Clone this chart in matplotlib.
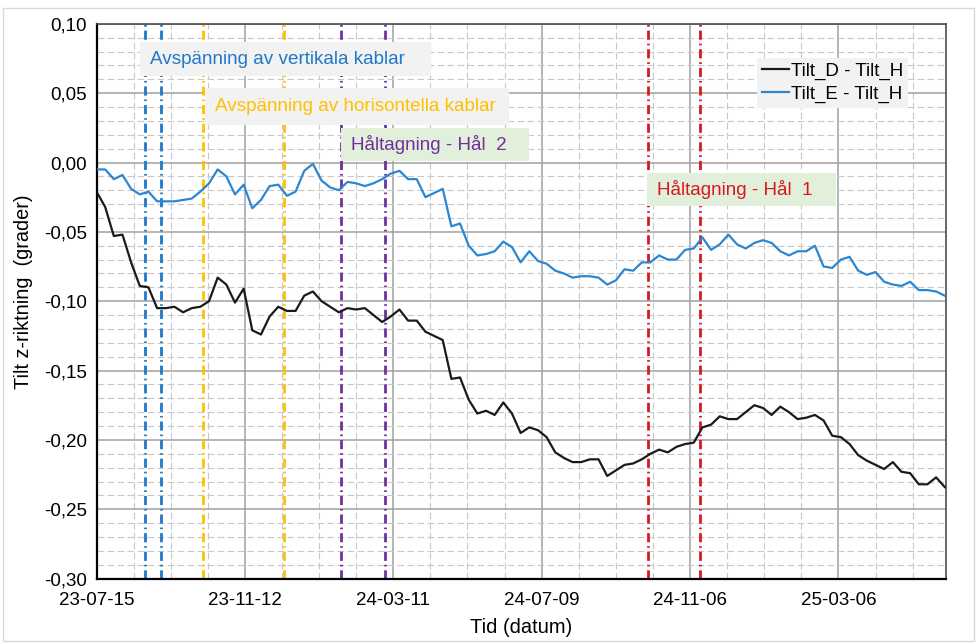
import matplotlib
matplotlib.use("Agg")
import matplotlib.pyplot as plt
import matplotlib.dates as mdates
from matplotlib.patches import Rectangle
from matplotlib.ticker import FixedLocator, FuncFormatter
import pandas as pd

plt.rcParams['font.family'] = ['Liberation Sans', 'DejaVu Sans']

# weekly readings, first on 2023-07-15
dates = pd.date_range('2023-07-15', periods=99, freq='7D')

tilt_d_h = [-0.021, -0.032, -0.053, -0.052, -0.072, -0.089, -0.090, -0.105, -0.105, -0.104,
            -0.108, -0.105, -0.104, -0.100, -0.083, -0.088, -0.101, -0.091, -0.121, -0.124,
            -0.111, -0.104, -0.107, -0.107, -0.096, -0.093, -0.100, -0.104, -0.108, -0.105,
            -0.106, -0.105, -0.110, -0.115, -0.111, -0.106, -0.114, -0.114, -0.122, -0.125,
            -0.128, -0.156, -0.155, -0.171, -0.181, -0.179, -0.182, -0.173, -0.181, -0.195,
            -0.191, -0.193, -0.198, -0.209, -0.213, -0.216, -0.216, -0.214, -0.214, -0.226,
            -0.222, -0.218, -0.217, -0.214, -0.210, -0.207, -0.209, -0.205, -0.203, -0.202,
            -0.191, -0.189, -0.183, -0.185, -0.185, -0.180, -0.175, -0.177, -0.182, -0.176,
            -0.180, -0.185, -0.184, -0.182, -0.186, -0.197, -0.198, -0.203, -0.211, -0.215,
            -0.218, -0.221, -0.216, -0.223, -0.224, -0.232, -0.232, -0.227, -0.234]

tilt_e_h = [-0.005, -0.005, -0.012, -0.009, -0.019, -0.023, -0.021, -0.028, -0.028, -0.028,
            -0.027, -0.026, -0.021, -0.015, -0.005, -0.010, -0.023, -0.016, -0.033, -0.027,
            -0.017, -0.016, -0.024, -0.021, -0.006, -0.001, -0.013, -0.018, -0.020, -0.014,
            -0.015, -0.017, -0.015, -0.012, -0.008, -0.006, -0.012, -0.012, -0.025, -0.022,
            -0.019, -0.046, -0.044, -0.060, -0.067, -0.066, -0.064, -0.057, -0.061, -0.072,
            -0.064, -0.071, -0.073, -0.078, -0.080, -0.083, -0.082, -0.082, -0.083, -0.088,
            -0.085, -0.077, -0.078, -0.072, -0.072, -0.067, -0.070, -0.070, -0.063, -0.062,
            -0.054, -0.063, -0.059, -0.052, -0.059, -0.062, -0.058, -0.056, -0.058, -0.064,
            -0.067, -0.064, -0.064, -0.060, -0.075, -0.076, -0.070, -0.068, -0.078, -0.081,
            -0.079, -0.086, -0.088, -0.089, -0.086, -0.092, -0.092, -0.093, -0.096]

series_names = ['Tilt_D - Tilt_H', 'Tilt_E - Tilt_H']
series_colors = ['#1a1a1a', '#2b87d1']

# event markers (vertical dash-dot lines)
events = [
    ('Avspänning av vertikala kablar', ['2023-08-23', '2023-09-05'], '#1f78c8', '#f2f2f2'),
    ('Avspänning av horisontella kablar', ['2023-10-09', '2023-12-14'], '#ffc000', '#f2f2f2'),
    ('Håltagning - Hål  2', ['2024-01-29', '2024-03-04'], '#7030a0', '#e2efda'),
    ('Håltagning - Hål  1', ['2024-10-03', '2024-11-14'], '#d7191f', '#e2efda'),
]
# label boxes in pixels: x0, y0, x1, y1 (from top), text x
boxes = [(140, 42, 431, 76, 150), (205, 88, 509, 125, 215),
         (341, 128, 529, 161, 351), (647, 173, 836, 206, 657)]

W, H = 977, 643
fig = plt.figure(figsize=(W / 100, H / 100), dpi=100)
ax = fig.add_axes([96.5 / W, 1 - 578.6 / H, (946 - 96.5) / W, (578.6 - 23.8) / H])

# outer frame
fig.patches.append(Rectangle((3 / W, 2 / H), 971 / W, 633 / H, transform=fig.transFigure,
                             fill=False, edgecolor='#d9d9d9', lw=1))

x0 = pd.Timestamp('2023-07-15')
ax.set_xlim(x0, pd.Timestamp('2025-06-01'))
ax.set_ylim(-0.30, 0.10)

major_x = mdates.date2num(pd.date_range(x0, periods=6, freq='120D'))
minor_x = mdates.date2num(pd.date_range(x0, periods=24, freq='30D'))
ax.xaxis.set_major_locator(FixedLocator(major_x))
ax.xaxis.set_minor_locator(FixedLocator(minor_x))
ax.xaxis.set_major_formatter(mdates.DateFormatter('%y-%m-%d'))
ax.yaxis.set_major_locator(FixedLocator([-0.30, -0.25, -0.20, -0.15, -0.10, -0.05, 0.0, 0.05, 0.10]))
ax.yaxis.set_minor_locator(FixedLocator([v / 100 for v in range(-30, 11)]))
ax.yaxis.set_major_formatter(FuncFormatter(lambda v, p: f'{v:.2f}'.replace('.', ',').replace('-0,00', '0,00')))

ax.grid(which='minor', color='#c8c8c8', lw=0.8, linestyle=(0, (6, 3)))
ax.grid(which='major', color='#a0a0a0', lw=1.1, linestyle='-')
ax.set_axisbelow(True)
ax.tick_params(which='both', length=0)
ax.tick_params(axis='x', pad=10, labelsize=13.5)
ax.tick_params(axis='y', pad=7, labelsize=13.5)

for s in ['left', 'bottom']:
    ax.spines[s].set_color('black')
    ax.spines[s].set_linewidth(1.6)
for s in ['top', 'right']:
    ax.spines[s].set_color('#4d4d4d')
    ax.spines[s].set_linewidth(1.2)

for label, days, color, bg in events:
    for d in days:
        ax.axvline(pd.Timestamp(d), color=color, lw=2, linestyle=(0, (3.3, 1.4, 0.6, 1.4)), zorder=2)

ax.plot(dates, tilt_d_h, color=series_colors[0], lw=1.6, label=series_names[0], zorder=3)
ax.plot(dates, tilt_e_h, color=series_colors[1], lw=1.6, label=series_names[1], zorder=3)

for (label, days, color, bg), (bx0, by0, bx1, by1, tx) in zip(events, boxes):
    fig.patches.append(Rectangle((bx0 / W, 1 - by1 / H), (bx1 - bx0) / W, (by1 - by0) / H,
                                 transform=fig.transFigure, facecolor=bg, edgecolor='none', zorder=5))
    fig.text(tx / W, 1 - (by0 + by1) / 2 / H, label, color=color, fontsize=13.6,
             ha='left', va='center', zorder=6)

leg = ax.legend(loc='upper left', bbox_to_anchor=(757 / W, 1 - 58 / H), bbox_transform=fig.transFigure,
                fontsize=13.5, frameon=True, fancybox=False, borderaxespad=0, borderpad=0.25,
                handlelength=1.45, handletextpad=0.1, labelspacing=0.3)
leg.get_frame().set_facecolor('#f2f2f2')
leg.get_frame().set_edgecolor('none')
leg.get_frame().set_alpha(1)
leg.set_zorder(7)

ax.set_xlabel('Tid (datum)', fontsize=14.5, labelpad=6)
ax.set_ylabel('Tilt z-riktning  (grader)', fontsize=14.3)
ax.yaxis.set_label_coords(-0.075, 0.517)

fig.savefig('out.png', dpi=100)
